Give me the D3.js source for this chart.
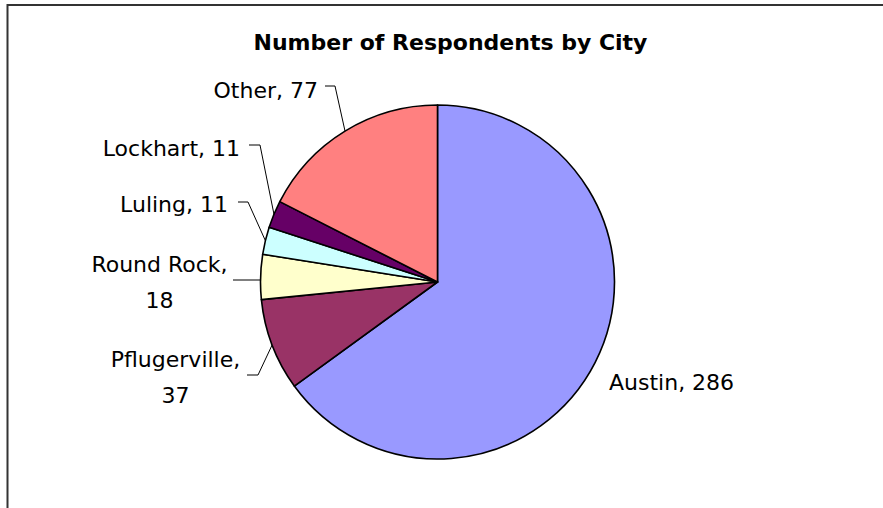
<!DOCTYPE html>
<html>
<head>
<meta charset="utf-8">
<script src="https://cdn.jsdelivr.net/npm/d3@7"></script>
<style>
  html, body { margin: 0; padding: 0; background: #fff; }
  svg { display: block; }
  text { font-family: "DejaVu Sans", sans-serif; fill: #000; }
</style>
</head>
<body>
<svg id="chart" width="883" height="508"></svg>
<script>
// Respondent counts per city
const cities = ["Austin", "Pflugerville", "Round Rock", "Luling", "Lockhart", "Other"];
const respondents = [286, 37, 18, 11, 11, 77];
const sliceColors = ["#9999FF", "#993366", "#FFFFCC", "#CCFFFF", "#660066", "#FF8080"];
const chartTitle = "Number of Respondents by City";

const W = 883, H = 508;
const cx = 437.5, cy = 282, R = 177;

const svg = d3.select("#chart");

// chart area frame (runs off the right and bottom edges)
svg.append("path")
  .attr("d", `M7.5,${H + 5} L7.5,5 L${W + 5},5`)
  .attr("fill", "none")
  .attr("stroke", "#333")
  .attr("stroke-width", 2);

svg.append("text")
  .attr("x", 450.5)
  .attr("y", 50)
  .attr("text-anchor", "middle")
  .style("font-weight", "bold")
  .style("font-size", "22px")
  .text(chartTitle);

const data = cities.map((c, i) => ({ city: c, value: respondents[i], color: sliceColors[i] }));

const pie = d3.pie().sort(null).value(d => d.value);
const arcs = pie(data);
const arc = d3.arc().innerRadius(0).outerRadius(R);

const g = svg.append("g").attr("transform", `translate(${cx},${cy})`);

g.selectAll("path.slice")
  .data(arcs)
  .join("path")
  .attr("class", "slice")
  .attr("d", arc)
  .attr("fill", d => d.data.color)
  .attr("stroke", "#000")
  .attr("stroke-width", 1.6)
  .attr("stroke-linejoin", "round");

// label placement: text anchor point, alignment, whether the value wraps
// onto a second line, and the leader elbow (null = no leader)
const labelLayout = {
  "Austin":       { x: 609, y: 390, anchor: "start", wrap: false, elbow: null },
  "Pflugerville": { x: 175.5, y: 367, anchor: "middle", wrap: true, lineFrom: 247, elbow: [258, 375] },
  "Round Rock":   { x: 159.5, y: 272, anchor: "middle", wrap: true, lineFrom: 233, elbow: null, flat: 280 },
  "Luling":       { x: 228, y: 212, anchor: "end", wrap: false, lineFrom: 238, elbow: [248, 202] },
  "Lockhart":     { x: 240, y: 156, anchor: "end", wrap: false, lineFrom: 249, elbow: [260, 145] },
  "Other":        { x: 318, y: 98, anchor: "end", wrap: false, lineFrom: 325, elbow: [335, 86] }
};

const labelSize = 22;
const lineGap = 36;

arcs.forEach(a => {
  const L = labelLayout[a.data.city];
  const t = svg.append("text")
    .attr("text-anchor", L.anchor)
    .style("font-size", labelSize + "px");
  if (L.wrap) {
    t.append("tspan").attr("x", L.x).attr("y", L.y).text(a.data.city + ",");
    t.append("tspan").attr("x", L.x).attr("y", L.y + lineGap).text(a.data.value);
  } else {
    t.attr("x", L.x).attr("y", L.y).text(`${a.data.city}, ${a.data.value}`);
  }

  // leader line from the slice edge at its mid-angle to the label
  const mid = (a.startAngle + a.endAngle) / 2;
  const ex = cx + R * Math.sin(mid);
  const ey = cy - R * Math.cos(mid);
  let pts = null;
  if (L.elbow) {
    pts = [[L.lineFrom, L.elbow[1]], L.elbow, [ex, ey]];
  } else if (L.flat !== undefined) {
    pts = [[L.lineFrom, L.flat], [ex, L.flat]];
  }
  if (pts) {
    svg.append("path")
      .attr("d", d3.line()(pts))
      .attr("fill", "none")
      .attr("stroke", "#000")
      .attr("stroke-width", 1);
  }
});
</script>
</body>
</html>
